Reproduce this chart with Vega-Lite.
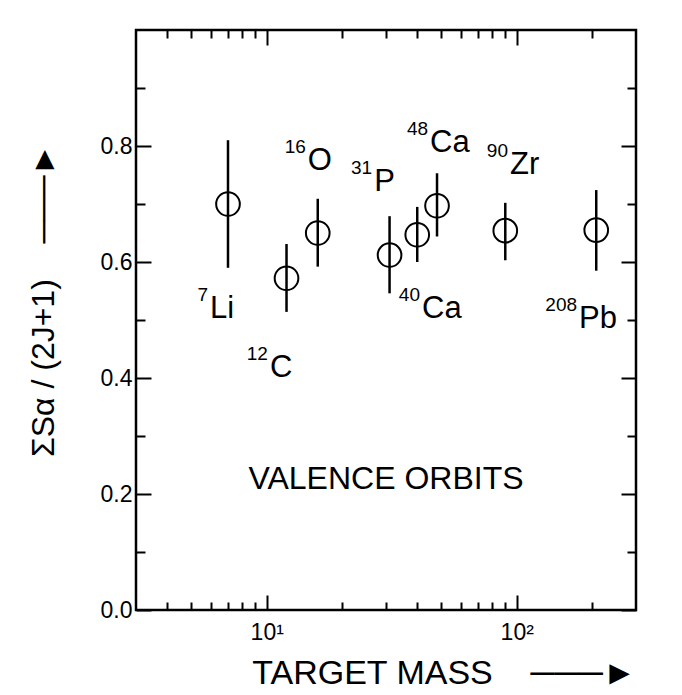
{
  "$schema": "https://vega.github.io/schema/vega-lite/v6.json",
  "width": 500,
  "height": 580,
  "autosize": {"type": "none"},
  "padding": {"left": 136, "top": 30, "right": 46, "bottom": 85},
  "background": "white",
  "config": {
    "view": {"stroke": "black", "strokeWidth": 2.5},
    "font": "Liberation Sans",
    "axis": {
      "grid": false,
      "domain": false,
      "tickColor": "black",
      "tickWidth": 2,
      "labelColor": "black",
      "titleColor": "black",
      "labelFont": "Liberation Sans",
      "titleFont": "Liberation Sans",
      "titleFontWeight": "normal",
      "labelOverlap": false,
      "labelFlush": false
    }
  },
  "resolve": {"axis": {"x": "independent", "y": "independent"}},
  "layer": [
    {
      "data": {"name": "pts", "values": [
        {"nucleus": "7Li", "mass": 7, "s": 0.70, "lo": 0.59, "hi": 0.81},
        {"nucleus": "12C", "mass": 12, "s": 0.572, "lo": 0.514, "hi": 0.631},
        {"nucleus": "16O", "mass": 16, "s": 0.65, "lo": 0.592, "hi": 0.709},
        {"nucleus": "31P", "mass": 31, "s": 0.612, "lo": 0.546, "hi": 0.679},
        {"nucleus": "40Ca", "mass": 40, "s": 0.647, "lo": 0.60, "hi": 0.695},
        {"nucleus": "48Ca", "mass": 48, "s": 0.697, "lo": 0.644, "hi": 0.753},
        {"nucleus": "90Zr", "mass": 90, "s": 0.654, "lo": 0.603, "hi": 0.702},
        {"nucleus": "208Pb", "mass": 208, "s": 0.655, "lo": 0.585, "hi": 0.724}
      ]},
      "mark": {"type": "rule", "color": "black", "strokeWidth": 2.5},
      "encoding": {
        "x": {
          "field": "mass", "type": "quantitative",
          "scale": {"type": "log", "domain": [3, 300], "nice": false},
          "axis": {
            "orient": "bottom",
            "values": [4, 5, 6, 7, 8, 9, 10, 20, 30, 40, 50, 60, 70, 80, 90, 100, 200],
            "labelExpr": "datum.value == 10 ? '10¹' : datum.value == 100 ? '10²' : ''",
            "tickSize": {"condition": {"test": "datum.value == 10 || datum.value == 100", "value": -15}, "value": -8},
            "labelFontSize": 23,
            "labelPadding": 26,
            "title": "TARGET MASS\u00a0\u00a0\u00a0\u00a0───►",
            "titleFontSize": 34,
            "titleAnchor": "end",
            "titlePadding": 5
          }
        },
        "y": {
          "field": "lo", "type": "quantitative",
          "scale": {"domain": [0, 1], "nice": false},
          "axis": {
            "orient": "left",
            "values": [0, 0.1, 0.2, 0.3, 0.4, 0.5, 0.6, 0.7, 0.8, 0.9],
            "labelExpr": "(round(datum.value * 10) % 2 == 0 && datum.value < 0.85) ? format(datum.value, '.1f') : ''",
            "tickSize": {"condition": {"test": "round(datum.value * 10) % 2 == 0", "value": -15}, "value": -9},
            "labelFontSize": 23,
            "labelPadding": 19,
            "title": "ΣSα / (2J+1)\u00a0\u00a0\u00a0\u00a0───►",
            "titleFontSize": 32,
            "titleY": 270,
            "titlePadding": 40
          }
        },
        "y2": {"field": "hi"}
      }
    },
    {
      "data": {"name": "pts"},
      "mark": {"type": "point", "shape": "circle", "filled": false, "color": "black", "strokeWidth": 2, "size": 560, "opacity": 1},
      "encoding": {
        "x": {
          "field": "mass", "type": "quantitative",
          "scale": {"type": "log", "domain": [3, 300], "nice": false},
          "axis": {
            "orient": "top",
            "values": [4, 5, 6, 7, 8, 9, 10, 20, 30, 40, 50, 60, 70, 80, 90, 100, 200],
            "labels": false,
            "tickSize": {"condition": {"test": "datum.value == 10 || datum.value == 100", "value": -15}, "value": -8},
            "title": null
          }
        },
        "y": {
          "field": "s", "type": "quantitative",
          "scale": {"domain": [0, 1], "nice": false},
          "axis": {
            "orient": "right",
            "values": [0, 0.1, 0.2, 0.3, 0.4, 0.5, 0.6, 0.7, 0.8, 0.9],
            "labels": false,
            "tickSize": {"condition": {"test": "round(datum.value * 10) % 2 == 0", "value": -15}, "value": -9},
            "title": null
          }
        }
      }
    },
    {
      "data": {"name": "labels", "values": [
        {"sup": "7", "sym": "Li", "lx": 5.93, "ly": 0.503},
        {"sup": "12", "sym": "C", "lx": 10.3, "ly": 0.402},
        {"sup": "16", "sym": "O", "lx": 14.6, "ly": 0.759},
        {"sup": "31", "sym": "P", "lx": 26.9, "ly": 0.722},
        {"sup": "40", "sym": "Ca", "lx": 41.8, "ly": 0.503},
        {"sup": "48", "sym": "Ca", "lx": 45.0, "ly": 0.790},
        {"sup": "90", "sym": "Zr", "lx": 94.0, "ly": 0.752},
        {"sup": "208", "sym": "Pb", "lx": 177.5, "ly": 0.486}
      ]},
      "mark": {"type": "text", "align": "left", "baseline": "alphabetic", "fontSize": 31, "color": "black", "font": "Liberation Sans"},
      "encoding": {
        "x": {"field": "lx", "type": "quantitative", "scale": {"type": "log", "domain": [3, 300], "nice": false}, "axis": null},
        "y": {"field": "ly", "type": "quantitative", "scale": {"domain": [0, 1], "nice": false}, "axis": null},
        "text": {"field": "sym"}
      }
    },
    {
      "data": {"name": "labels"},
      "mark": {"type": "text", "align": "right", "baseline": "alphabetic", "fontSize": 19, "dx": -2, "dy": -17, "color": "black", "font": "Liberation Sans"},
      "encoding": {
        "x": {"field": "lx", "type": "quantitative", "scale": {"type": "log", "domain": [3, 300], "nice": false}, "axis": null},
        "y": {"field": "ly", "type": "quantitative", "scale": {"domain": [0, 1], "nice": false}, "axis": null},
        "text": {"field": "sup"}
      }
    },
    {
      "data": {"values": [{"note": "VALENCE ORBITS", "nx": 30, "ny": 0.209}]},
      "mark": {"type": "text", "align": "center", "baseline": "alphabetic", "fontSize": 32, "color": "black", "font": "Liberation Sans"},
      "encoding": {
        "x": {"field": "nx", "type": "quantitative", "scale": {"type": "log", "domain": [3, 300], "nice": false}, "axis": null},
        "y": {"field": "ny", "type": "quantitative", "scale": {"domain": [0, 1], "nice": false}, "axis": null},
        "text": {"field": "note"}
      }
    }
  ]
}
